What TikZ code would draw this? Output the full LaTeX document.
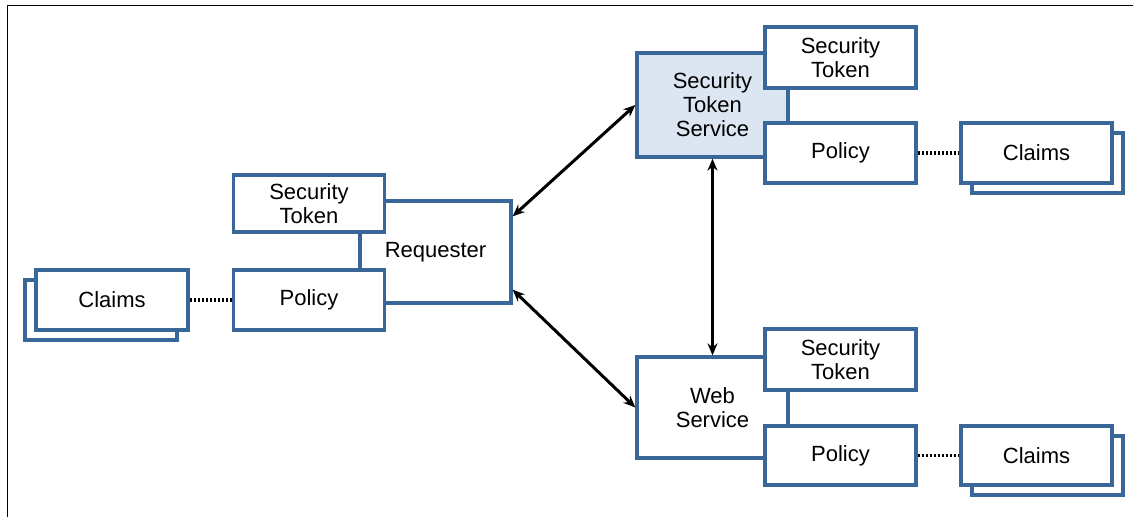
\documentclass[tikz,border=0pt]{standalone}
\usepackage{fontspec}
\setmainfont{Liberation Sans}
\usetikzlibrary{arrows.meta}
\definecolor{boxblue}{HTML}{3A6799}
\definecolor{stsfill}{HTML}{DCE6F2}
\tikzset{
  box/.style={draw=boxblue, line width=3.3pt, fill=white, rectangle, inner sep=0pt,
    align=center, font=\fontsize{22}{24}\selectfont, minimum width=151pt},
  smallbox/.style={box, minimum height=60pt},
  bigbox/.style={box, minimum height=102pt},
  dots/.style={line width=3.6pt, dash pattern=on 2.2pt off 1.8pt},
  arr/.style={line width=3pt, {Stealth[length=12pt,width=10pt]}-{Stealth[length=12pt,width=10pt]}},
}
\begin{document}
\begin{tikzpicture}[x=1pt,y=-1pt]
\useasboundingbox (0,0) rectangle (1135,517);
\draw[line width=1.6pt] (7.5,517) -- (7.5,5.5) -- (1133,5.5);

% Requester group
\node[bigbox] (req) at (435.5,252) {\raisebox{-2pt}{Requester}};
\node[smallbox, minimum height=57pt] (rst) at (309,203.5) {Security\\Token};
\node[smallbox] (rpol) at (309,300) {Policy};
\node[smallbox, minimum width=152pt] (rclb) at (101,310) {};
\node[smallbox, minimum width=152pt] (rcl) at (112,300) {Claims};
\draw[dots] (rcl.east) -- (rpol.west);

% STS group
\node[bigbox, fill=stsfill, minimum height=104pt] (sts) at (712.5,105) {Security\\Token\\Service};
\node[smallbox, minimum height=61pt] (sst) at (840.5,57.5) {Security\\Token};
\node[smallbox] (spol) at (840.5,153) {Policy};
\node[smallbox] (sclb) at (1047.5,163) {};
\node[smallbox] (scl) at (1036.5,153) {Claims};
\draw[dots] (spol.east) -- (scl.west);

% Web service group
\node[bigbox, minimum height=101pt] (ws) at (712.5,407.5) {Web\\Service};
\node[smallbox, minimum height=61pt] (wst) at (840.5,359.5) {Security\\Token};
\node[smallbox, minimum height=59pt] (wpol) at (840.5,455.5) {Policy};
\node[smallbox, minimum height=59pt] (wclb) at (1047.5,465.5) {};
\node[smallbox, minimum height=59pt] (wcl) at (1036.5,455.5) {Claims};
\draw[dots] (wpol.east) -- (wcl.west);

% arrows
\draw[arr] ([yshift=-17pt]req.north east) -- (sts.west);
\draw[arr] ([yshift=15pt]req.south east) -- (ws.west);
\draw[arr] (sts.south) -- (ws.north);
\end{tikzpicture}
\end{document}
